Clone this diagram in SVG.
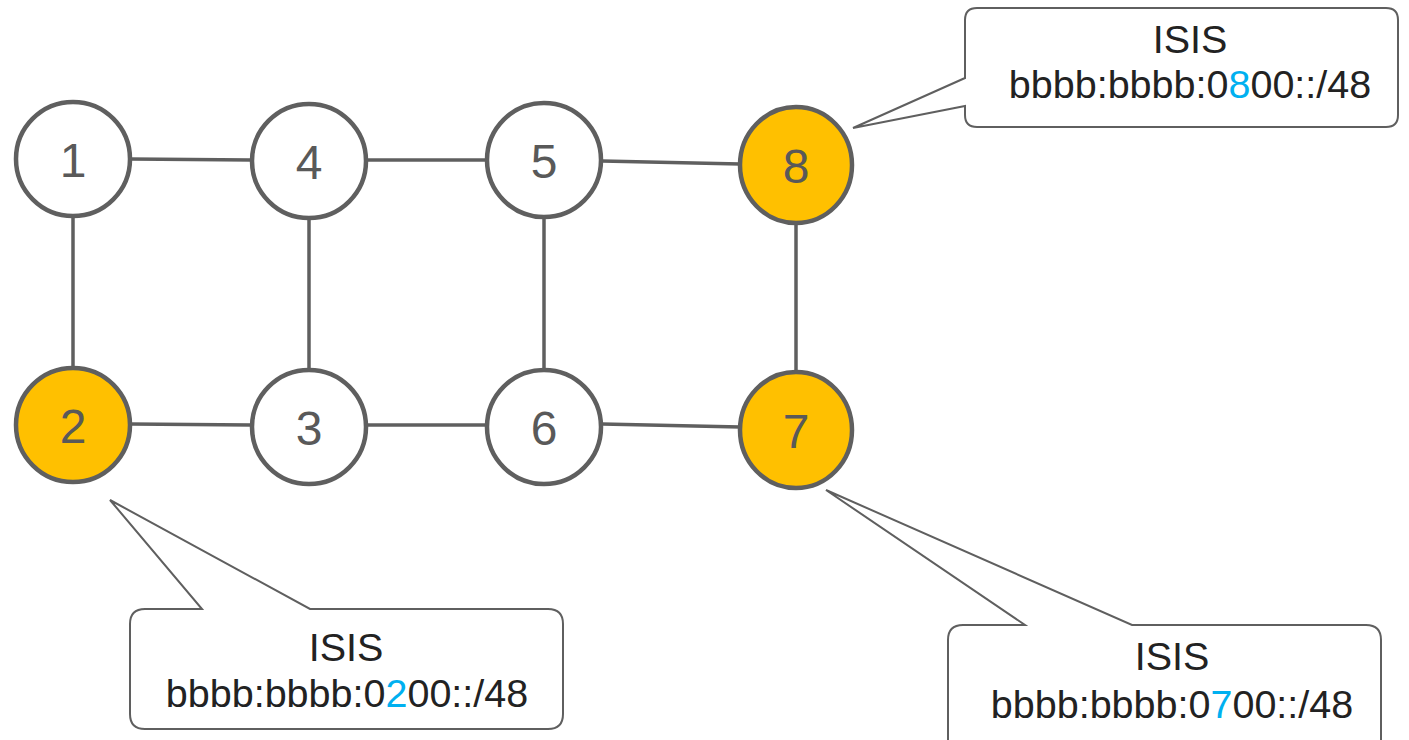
<svg xmlns="http://www.w3.org/2000/svg" width="1409" height="740" viewBox="0 0 1409 740">
<style>
.node{fill:#ffffff;stroke:#5f5f5f;stroke-width:4.5}
.hl{fill:#FFC000}
.num{font-family:"Liberation Sans",Arial,sans-serif;font-size:48px;fill:#595959;text-anchor:middle}
.edge{stroke:#5f5f5f;stroke-width:3.5;fill:none}
.call{fill:#ffffff;stroke:#5f5f5f;stroke-width:2}
.lbl{font-family:"Liberation Sans",Arial,sans-serif;font-size:39.5px;fill:#222222;text-anchor:middle}
.blue{fill:#00B0F0}
</style>
<rect width="1409" height="740" fill="#ffffff"/>
<g id="connectors">
<line class="edge" x1="130" y1="159" x2="251" y2="160"/>
<line class="edge" x1="367" y1="160" x2="487" y2="160"/>
<line class="edge" x1="602" y1="161" x2="740" y2="164"/>
<line class="edge" x1="73" y1="217" x2="73" y2="368"/>
<line class="edge" x1="309" y1="219" x2="309" y2="370"/>
<line class="edge" x1="544" y1="218" x2="544" y2="370"/>
<line class="edge" x1="796" y1="223" x2="796" y2="372"/>
<line class="edge" x1="130" y1="424" x2="251" y2="425"/>
<line class="edge" x1="367" y1="425" x2="487" y2="425"/>
<line class="edge" x1="602" y1="424" x2="740" y2="427"/>
</g>
<g id="node1"><ellipse class="node" cx="73" cy="159" rx="57" ry="57"/><text class="num" x="73" y="177">1</text></g>
<g id="node4"><ellipse class="node" cx="309" cy="161" rx="57" ry="57"/><text class="num" x="309" y="179">4</text></g>
<g id="node5"><ellipse class="node" cx="544" cy="160" rx="57" ry="57"/><text class="num" x="544" y="178">5</text></g>
<g id="node8"><ellipse class="node hl" cx="796" cy="165" rx="56" ry="58"/><text class="num" x="796" y="183">8</text></g>
<g id="node2"><ellipse class="node hl" cx="73" cy="425" rx="57" ry="57"/><text class="num" x="73" y="443">2</text></g>
<g id="node3"><ellipse class="node" cx="309" cy="427" rx="57" ry="57"/><text class="num" x="309" y="445">3</text></g>
<g id="node6"><ellipse class="node" cx="544" cy="427" rx="57" ry="57"/><text class="num" x="544" y="445">6</text></g>
<g id="node7"><ellipse class="node hl" cx="796" cy="430" rx="56" ry="58"/><text class="num" x="796" y="448">7</text></g>
<g id="callout8">
<path class="call" d="M977,8 H1386 Q1398,8 1398,20 V115 Q1398,127 1386,127 H977 Q965,127 965,115 V106 L853,128 L965,78 V20 Q965,8 977,8 Z"/>
<text class="lbl" x="1190" y="53">ISIS</text>
<text class="lbl" x="1190" y="98">bbbb:bbbb:0<tspan class="blue">8</tspan>00::/48</text>
</g>
<g id="callout2">
<path class="call" d="M145,609 H202 L110,500 L310,609 H548 Q563,609 563,624 V714 Q563,729 548,729 H145 Q130,729 130,714 V624 Q130,609 145,609 Z"/>
<text class="lbl" x="346" y="661">ISIS</text>
<text class="lbl" x="347" y="707">bbbb:bbbb:0<tspan class="blue">2</tspan>00::/48</text>
</g>
<g id="callout7">
<path class="call" d="M963,625 H1025 L826,490 L1132,625 H1366 Q1381,625 1381,640 V760 H948 V640 Q948,625 963,625 Z"/>
<text class="lbl" x="1172" y="670">ISIS</text>
<text class="lbl" x="1172" y="718">bbbb:bbbb:0<tspan class="blue">7</tspan>00::/48</text>
</g>
</svg>
